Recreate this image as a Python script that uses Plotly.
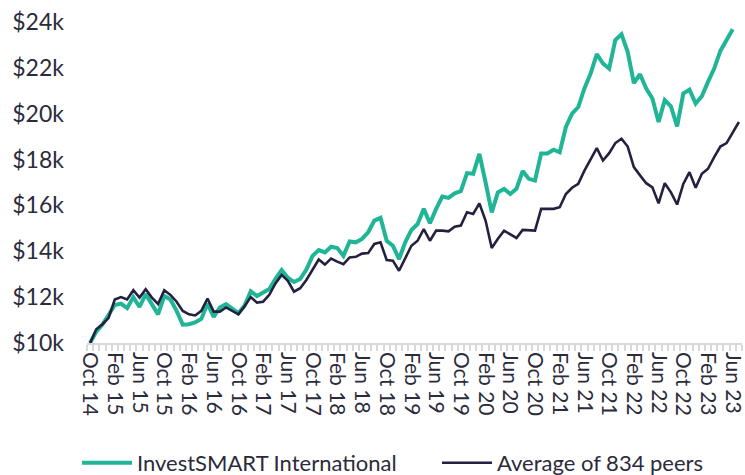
import pandas as pd
import plotly.graph_objects as go

# Month categories (Oct 14 .. Jul 23)
months = pd.date_range("2014-10-01", periods=106, freq="MS").strftime("%b %y").tolist()

# Values in $k
investsmart = [
    10.0, 10.5, 10.8, 11.25, 11.66, 11.72, 11.52, 12.0, 11.57, 12.13,
    11.66, 11.25, 12.05, 11.9, 11.4, 10.8, 10.82, 10.9, 11.05, 11.72,
    11.14, 11.55, 11.7, 11.5, 11.3, 11.63, 12.25, 12.05, 12.2, 12.35,
    12.8, 13.18, 12.85, 12.66, 12.79, 13.2, 13.8, 14.05, 13.95, 14.2,
    14.14, 13.8, 14.43, 14.39, 14.54, 14.83, 15.34, 15.46, 14.46, 14.24,
    13.66, 14.39, 14.93, 15.19, 15.85, 15.22, 15.85, 16.39, 16.33, 16.53,
    16.62, 17.41, 17.38, 18.25, 17.01, 15.7, 16.57, 16.72, 16.5, 16.72,
    17.5, 17.16, 17.09, 18.27, 18.27, 18.43, 18.32, 19.42, 20.0, 20.29,
    21.1, 21.75, 22.6, 22.19, 21.97, 23.21, 23.46, 22.7, 21.34, 21.72,
    21.1, 20.66, 19.64, 20.59, 20.32, 19.45, 20.88, 21.05, 20.44, 20.76,
    21.39, 21.97, 22.74, 23.21, 23.68,
]

peers = [
    10.0, 10.6, 10.82, 11.1, 11.9, 12.0, 11.9, 12.3, 11.98, 12.35,
    11.98, 11.7, 12.3, 12.1, 11.8, 11.4, 11.25, 11.2, 11.4, 11.94,
    11.37, 11.37, 11.55, 11.4, 11.25, 11.6, 12.0, 11.76, 11.8, 12.1,
    12.6, 12.97, 12.71, 12.24, 12.39, 12.75, 13.22, 13.64, 13.42, 13.68,
    13.55, 13.44, 13.73, 13.76, 13.9, 13.92, 14.32, 14.39, 13.62, 13.59,
    13.15, 13.73, 14.24, 14.46, 14.97, 14.46, 14.9, 14.9, 14.87, 15.07,
    15.12, 15.7, 15.63, 16.09, 15.34, 14.14, 14.55, 14.9, 14.75, 14.58,
    14.93, 14.9, 14.9, 15.85, 15.85, 15.85, 15.92, 16.5, 16.77, 16.94,
    17.52, 18.03, 18.5, 17.96, 18.28, 18.72, 18.91, 18.57, 17.67, 17.31,
    16.97, 16.79, 16.09, 16.97, 16.57, 16.04, 16.94, 17.45, 16.77, 17.38,
    17.6, 18.11, 18.57, 18.72, 19.2, 19.64,
]

x_labels = [m if i % 4 == 0 and i <= 104 else "" for i, m in enumerate(months)]
y_ticks = [10, 12, 14, 16, 18, 20, 22, 24]
y_labels = ["$10k", "$12k", "$14k", "$16k", "$18k", "$20k", "$22k", "$24k"]

TEAL = "#1fb596"
NAVY = "#23213f"
FONT = "Lato"
TXT = "#2b2b3b"

fig = go.Figure()
fig.add_trace(go.Scatter(
    x=months[:len(investsmart)], y=investsmart, mode="lines",
    name="InvestSMART International",
    line=dict(color=TEAL, width=4), legend="legend",
))
fig.add_trace(go.Scatter(
    x=months[:len(peers)], y=peers, mode="lines",
    name="Average of 834 peers",
    line=dict(color=NAVY, width=2.6), legend="legend2",
))

legend_common = dict(
    orientation="h", xref="container", yref="container",
    xanchor="left", y=1 - 463 / 475, yanchor="middle",
    font=dict(family=FONT, size=22, color=TXT),
    itemwidth=50, bgcolor="rgba(0,0,0,0)",
)

fig.update_layout(
    width=745, height=475,
    margin=dict(l=87, r=3, t=22, b=132, autoexpand=False),
    paper_bgcolor="white", plot_bgcolor="white",
    font=dict(family=FONT, size=22, color=TXT),
    showlegend=True,
    legend=dict(x=77 / 745, **legend_common),
    legend2=dict(x=437 / 745, **legend_common),
    xaxis=dict(
        type="category", automargin=False,
        categoryorder="array", categoryarray=months,
        range=[-0.5, len(months) - 0.5],
        tickmode="array", tickvals=months, ticktext=x_labels,
        tickangle=90, tickson="boundaries",
        ticks="outside", ticklen=6, tickcolor="#d9d9d9", tickwidth=1.5,
        showline=True, linecolor="#d9d9d9", linewidth=1.5,
        showgrid=False, zeroline=False, ticklabelstandoff=3,
        tickfont=dict(family=FONT, size=21, color=TXT),
    ),
    yaxis=dict(
        automargin=False,
        range=[10, 24], tickmode="array", tickvals=y_ticks, ticktext=y_labels,
        showgrid=False, zeroline=False, showline=False, ticks="",
        ticklabelstandoff=22,
        tickfont=dict(family=FONT, size=23, color=TXT),
    ),
)

fig.write_html(
    "out.html",
    config={"displayModeBar": False},
    post_script="document.body.style.margin='0px';",
)
